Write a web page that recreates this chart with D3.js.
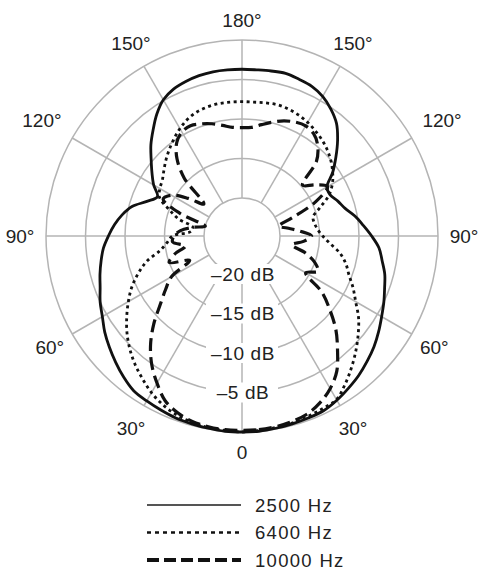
<!DOCTYPE html>
<html>
<head>
<meta charset="utf-8">
<script src="https://cdn.jsdelivr.net/npm/d3@7"></script>
<style>
  body { margin: 0; background: #fff; }
  svg text { font-family: "Liberation Sans", Arial, sans-serif; fill: #222; }
</style>
</head>
<body>
<svg id="chart" width="478" height="573"></svg>
<script>
// angle grid, degrees: 0 = front (bottom), 90 = right, 180 = rear (top), 270 = left
const angles = [0,5,10,15,20,25,30,35,40,45,50,55,60,65,70,75,80,85,90,95,100,105,110,115,
  120,125,130,135,140,145,150,155,160,165,170,175,180,185,190,195,200,205,210,215,220,225,230,235,
  240,245,250,255,260,265,270,275,280,285,290,295,300,305,310,315,320,325,330,335,340,345,350,355];

const hz2500 = [0,0,-0.1,-0.2,-0.3,-0.4,-0.8,-1.3,-1.8,-2.4,-3.0,-3.7,-4.4,-5.0,-5.6,-6.1,-6.8,-7.4,
  -8.4,-9.4,-10.3,-11.3,-11.9,-12.5,-12.4,-10.8,-9.3,-7.7,-6.2,-5.2,-4.4,-3.9,-3.7,-3.5,-3.6,-3.7,
  -3.7,-3.7,-3.7,-3.8,-4.0,-4.3,-4.9,-6.0,-7.3,-8.5,-9.8,-10.9,-11.9,-13.0,-12.0,-10.4,-9.4,-8.6,
  -7.9,-7.2,-6.7,-6.2,-5.7,-5.0,-4.4,-3.6,-2.9,-2.2,-1.5,-0.9,-0.7,-0.5,-0.3,-0.2,-0.1,0];

const hz6400 = [0,-0.1,-0.2,-0.3,-0.5,-0.7,-0.9,-2.0,-3.2,-4.4,-5.6,-6.8,-8.2,-9.3,-10.4,-11.2,-12.2,-13.6,
  -14.6,-15.2,-15.5,-15.5,-14.3,-12.7,-11.6,-10.8,-10.1,-9.5,-9.0,-8.6,-8.2,-7.9,-7.7,-7.6,-7.7,-7.8,
  -7.8,-7.8,-7.8,-7.9,-8.1,-8.5,-9.1,-9.8,-10.5,-11.2,-11.9,-12.5,-12.8,-13.3,-15.0,-16.5,-18.5,-18.3,
  -16.0,-15.3,-14.3,-12.3,-10.8,-9.4,-8.2,-7.0,-5.8,-4.7,-3.7,-2.8,-1.9,-1.2,-0.7,-0.4,-0.2,-0.1];

const hz10000 = [-0.2,-0.2,-0.3,-0.5,-0.8,-1.5,-2.5,-3.9,-6.0,-8.0,-10.3,-12.5,-15.5,-14.2,-15.0,-16.5,-18.4,-17.0,
  -16.0,-17.5,-19.0,-20.0,-18.0,-14.5,-12.3,-13.5,-14.8,-11.5,-9.9,-9.0,-8.7,-8.9,-9.3,-9.9,-10.5,-11.0,
  -11.1,-11.0,-10.6,-10.1,-9.7,-9.4,-9.6,-10.4,-12.0,-14.5,-18.5,-16.5,-14.5,-13.8,-16.5,-20.0,-18.5,-17.0,
  -16.2,-16.0,-17.5,-16.0,-15.0,-17.5,-14.5,-13.0,-11.3,-9.0,-6.8,-4.9,-3.3,-1.8,-1.0,-0.5,-0.3,-0.2];

const seriesNames = ["2500 Hz", "6400 Hz", "10000 Hz"];
const dbTicks = [-20, -15, -10, -5, 0];
const spokeAngles = [0, 30, 60, 90, 120, 150, 180, 210, 240, 270, 300, 330];
const spokeLabels = ["0", "30°", "60°", "90°", "120°", "150°", "180°", "150°", "120°", "90°", "60°", "30°"];

const svg = d3.select('#chart');
const cx = 242, cy = 236;

const r = d3.scaleLinear().domain([-20, 0]).range([38, 196]);
const toRad = d => (180 - d) * Math.PI / 180;   // lineRadial angle: 0 = up, clockwise

const g = svg.append('g').attr('transform', 'translate(' + cx + ',' + cy + ')');

// rings
g.selectAll('.ring').data(dbTicks).enter().append('circle')
  .attr('class', 'ring')
  .attr('r', d => r(d))
  .attr('fill', 'none')
  .attr('stroke', '#b4b4b4')
  .attr('stroke-width', 1.5);

// spokes
g.selectAll('.spoke').data(spokeAngles).enter().append('line')
  .attr('class', 'spoke')
  .attr('x1', d => r(-20) * Math.sin(toRad(d)))
  .attr('y1', d => -r(-20) * Math.cos(toRad(d)))
  .attr('x2', d => r(0) * Math.sin(toRad(d)))
  .attr('y2', d => -r(0) * Math.cos(toRad(d)))
  .attr('stroke', '#b4b4b4')
  .attr('stroke-width', 1.5);

// dB labels on the front axis, with white patches over the grid
let dbLab = g.selectAll('.dbLab').data(dbTicks.filter(d => d < 0)).enter().append('g')
  .attr('class', 'dbLab')
  .attr('transform', d => 'translate(0,' + r(d) + ')');
dbLab.append('rect')
  .attr('x', -36).attr('y', -10).attr('width', 72).attr('height', 20)
  .attr('fill', '#fff');
dbLab.append('text')
  .text(d => '\u2013' + Math.abs(d) + ' dB')
  .attr('x', 1)
  .attr('text-anchor', 'middle')
  .attr('dominant-baseline', 'central')
  .attr('font-size', 19)
  .attr('letter-spacing', 0.6);

// angle labels (wider ones sit a bit further out)
function labelR(d, i) {
  if (d === 0 || d === 180) return 216;
  if (spokeLabels[i].length > 3 && Math.abs(Math.sin(toRad(d))) > 0.7) return 231;
  return 222;
}
g.selectAll('.angLab').data(spokeAngles).enter().append('text')
  .attr('class', 'angLab')
  .text((d, i) => spokeLabels[i])
  .attr('x', (d, i) => labelR(d, i) * Math.sin(toRad(d)))
  .attr('y', (d, i) => -labelR(d, i) * Math.cos(toRad(d)))
  .attr('text-anchor', 'middle')
  .attr('dominant-baseline', 'central')
  .attr('font-size', 19);

// curves
const styles = [
  {dash: null, width: 2.8},
  {dash: '3,3.5', width: 2.8},
  {dash: '13,6', width: 3.2}
];
const allSeries = [hz2500, hz6400, hz10000];

const line = d3.lineRadial()
  .angle(d => toRad(d[0]))
  .radius(d => r(d[1]))
  .curve(d3.curveCatmullRomClosed.alpha(0.5));

g.selectAll('.curve').data(allSeries).enter().append('path')
  .attr('class', 'curve')
  .attr('d', vals => line(angles.map((a, i) => [a, vals[i]])))
  .attr('fill', 'none')
  .attr('stroke', '#111')
  .attr('stroke-width', (d, i) => styles[i].width)
  .attr('stroke-dasharray', (d, i) => styles[i].dash);

// legend
const legendY = d3.scalePoint().domain(seriesNames).range([505, 560]);
const leg = svg.selectAll('.leg').data(seriesNames).enter().append('g')
  .attr('class', 'leg')
  .attr('transform', d => 'translate(0,' + legendY(d) + ')');
leg.append('line')
  .attr('x1', 147).attr('x2', 241)
  .attr('stroke', (d, i) => i === 0 ? '#555' : '#111')
  .attr('stroke-width', (d, i) => [2, 2.4, 4][i])
  .attr('stroke-dasharray', (d, i) => [null, '4,4', '12,5'][i]);
leg.append('text')
  .text(d => d)
  .attr('x', 255)
  .attr('dominant-baseline', 'central')
  .attr('font-size', 18.5)
  .attr('letter-spacing', 1.3);
</script>
</body>
</html>
